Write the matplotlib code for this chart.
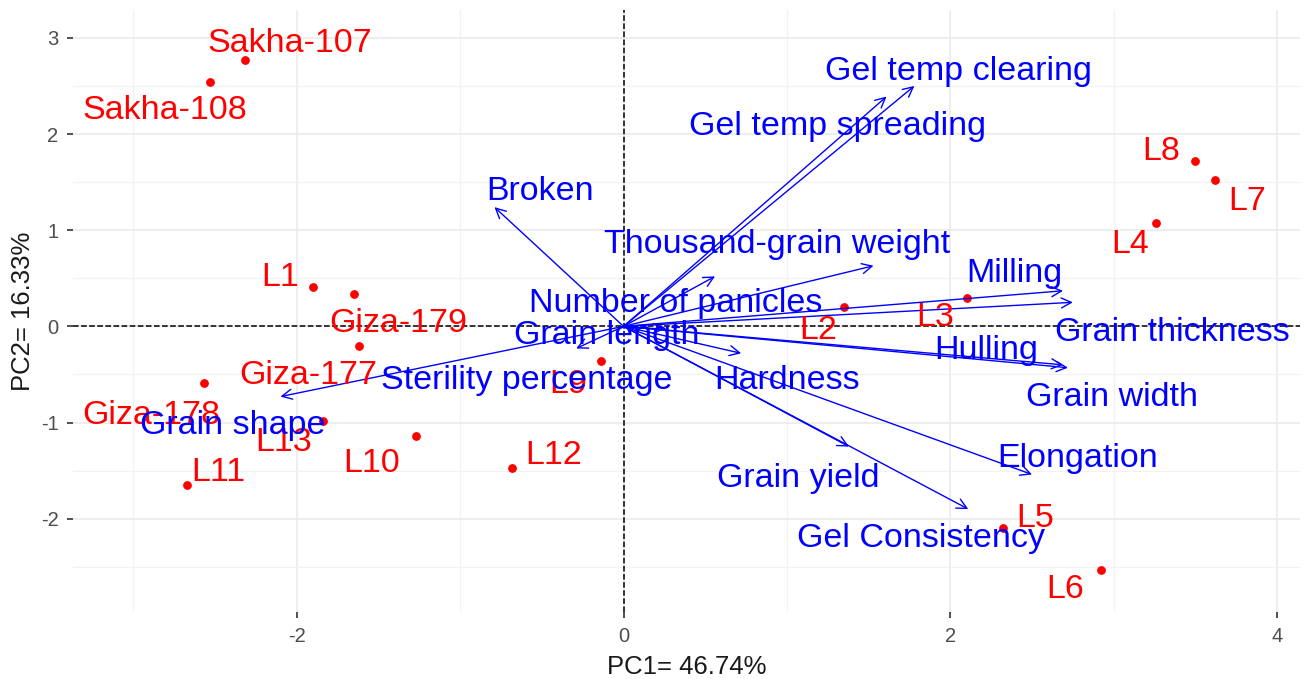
import numpy as np
import matplotlib.pyplot as plt
from matplotlib.ticker import MultipleLocator

plt.rcParams['font.family'] = ['Liberation Sans', 'DejaVu Sans']
plt.rcParams['axes.unicode_minus'] = False

# individuals (PC1, PC2 scores)
ind_names = ['Sakha-107', 'Sakha-108', 'L1', 'Giza-179', 'Giza-177', 'Giza-178',
             'L13', 'L11', 'L10', 'L12', 'L9', 'L2', 'L3', 'L4', 'L8', 'L7', 'L5', 'L6']
ind_x = [-2.32, -2.53, -1.90, -1.65, -1.62, -2.57, -1.84, -2.67, -1.27, -0.68,
         -0.14, 1.35, 2.10, 3.26, 3.50, 3.62, 2.32, 2.92]
ind_y = [2.77, 2.54, 0.41, 0.34, -0.20, -0.59, -0.98, -1.65, -1.14, -1.47,
         -0.36, 0.20, 0.30, 1.08, 1.72, 1.52, -2.10, -2.53]
# label positions (repelled)
ind_lx = [-2.04, -2.81, -2.10, -1.38, -1.93, -2.89, -2.08, -2.48, -1.54, -0.43,
          -0.34, 1.19, 1.91, 3.10, 3.29, 3.82, 2.52, 2.70]
ind_ly = [2.94, 2.24, 0.51, 0.03, -0.51, -0.93, -1.21, -1.52, -1.43, -1.34,
          -0.60, -0.04, 0.09, 0.85, 1.82, 1.30, -2.00, -2.74]

# variables (loadings, scaled)
var_names = ['Broken', 'Gel temp clearing', 'Gel temp spreading', 'Thousand-grain weight',
             'Number of panicles', 'Grain length', 'Sterility percentage', 'Grain shape',
             'Milling', 'Grain thickness', 'Hulling', 'Grain width', 'Hardness',
             'Elongation', 'Grain yield', 'Gel Consistency']
var_x = [-0.79, 1.78, 1.61, 1.53, 0.56, 0.25, -0.29, -2.10,
         2.69, 2.75, 2.69, 2.72, 0.72, 2.50, 1.38, 2.11]
var_y = [1.24, 2.50, 2.39, 0.63, 0.52, -0.03, -0.23, -0.73,
         0.37, 0.25, -0.40, -0.43, -0.28, -1.54, -1.25, -1.90]
var_lx = [-0.51, 2.05, 1.31, 0.94, 0.32, -0.10, -0.59, -2.39,
          2.39, 3.36, 2.22, 2.99, 1.00, 2.78, 1.07, 1.82]
var_ly = [1.40, 2.65, 2.08, 0.85, 0.24, -0.09, -0.56, -1.03,
          0.55, -0.06, -0.25, -0.74, -0.56, -1.37, -1.58, -2.21]

fig = plt.figure(figsize=(13.1, 6.79), dpi=100)
ax = fig.add_axes([0.0557, 0.0987, 0.9366, 0.8866])

ax.set_xlim(-3.37, 4.14)
ax.set_ylim(-2.97, 3.29)
ax.xaxis.set_major_locator(MultipleLocator(2))
ax.xaxis.set_minor_locator(MultipleLocator(1))
ax.yaxis.set_major_locator(MultipleLocator(1))
ax.yaxis.set_minor_locator(MultipleLocator(0.5))
ax.grid(which='major', color='#EBEBEB', linewidth=1.2)
ax.grid(which='minor', color='#F2F2F2', linewidth=0.9)
ax.set_axisbelow(True)
for s in ax.spines.values():
    s.set_visible(False)
ax.tick_params(which='major', length=4.5, width=1.2, color='#333333', pad=6,
               labelsize=14.5, labelcolor='#4D4D4D')
ax.tick_params(which='minor', length=0)

ax.axhline(0, color='black', linestyle='--', linewidth=1.1, zorder=1)
ax.axvline(0, color='black', linestyle='--', linewidth=1.1, zorder=1)

ax.scatter(ind_x, ind_y, s=28, color='#FF0000', zorder=3)
for n, x, y in zip(ind_names, ind_lx, ind_ly):
    ax.text(x, y, n, color='#FF0000', fontsize=24.5, ha='center', va='center', zorder=4)

for n, x, y, lx, ly in zip(var_names, var_x, var_y, var_lx, var_ly):
    ax.annotate('', xy=(x, y), xytext=(0, 0),
                arrowprops=dict(arrowstyle='->', color='#0000FF', lw=1.0,
                                mutation_scale=18, shrinkA=0, shrinkB=0), zorder=3)
    ax.text(lx, ly, n, color='#0000FF', fontsize=24.5, ha='center', va='center', zorder=4)

ax.set_xlabel('PC1= 46.74%', fontsize=18.5, color='#1A1A1A', labelpad=7)
ax.set_ylabel('PC2= 16.33%', fontsize=18.5, color='#1A1A1A', labelpad=4)

fig.savefig('out.png', dpi=100)
